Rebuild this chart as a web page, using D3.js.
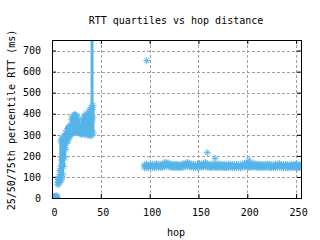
<!DOCTYPE html>
<html>
<head>
<meta charset="utf-8">
<script src="https://cdn.jsdelivr.net/npm/d3@7"></script>
<style>
  body { margin: 0; background: #fff; }
  text { font-family: "DejaVu Sans Mono", monospace; font-size: 10px; fill: #000; }
</style>
</head>
<body>
<div id="chart"></div>
<script>
// near hops (1..42), quartiles in ms
var nearHops = [1,2,3,4,5,6,7,8,9,10,11,12,13,14,15,16,17,18,19,20,21,22,23,24,25,26,27,28,29,30,31,32,33,34,35,36,37,38,39,40,41,42];
var nearQ25 = [0,0,0,1,1,62,70,75,85,90,110,150,190,230,260,270,280,290,300,305,310,310,315,315,310,315,310,310,305,305,305,310,300,305,310,300,305,300,295,300,300,310];
var nearQ50 = [2,2,3,3,4,75,85,100,150,180,210,240,260,275,285,295,300,305,315,320,330,335,340,345,340,335,330,325,320,320,325,330,320,325,335,330,340,345,350,360,420,380];
var nearQ75 = [5,6,8,8,10,90,100,130,270,280,285,290,300,305,320,330,335,340,350,375,385,390,395,395,390,380,370,350,340,345,375,355,390,350,400,380,395,410,420,430,900,440];

// far hops (95..255, every 2nd hop)
var farHops = [95,97,99,101,103,105,107,109,111,113,115,117,119,121,123,125,127,129,131,133,
  135,137,139,141,143,145,147,149,151,153,155,157,159,161,163,165,167,169,171,173,
  175,177,179,181,183,185,187,189,191,193,195,197,199,201,203,205,207,209,211,213,
  215,217,219,221,223,225,227,229,231,233,235,237,239,241,243,245,247,249,251,253,255];
var farQ25 = [143,145,144,146,145,144,147,145,144,146,149,151,148,147,145,144,146,145,143,145,
  147,150,151,148,146,145,144,146,147,145,149,151,146,145,144,146,145,144,146,145,
  144,145,143,145,146,144,143,145,144,143,146,148,149,146,145,147,148,146,144,145,
  145,144,145,146,145,144,143,145,146,147,144,143,145,144,143,145,144,145,143,144,144];
var farQ50 = [151,152,150,153,152,151,154,152,151,153,157,159,156,154,152,151,153,152,150,152,
  154,157,158,155,153,152,151,153,154,152,156,158,153,152,151,153,152,151,153,152,
  151,152,150,152,153,151,150,152,151,150,153,155,156,153,152,154,155,153,151,152,
  152,151,152,153,152,151,150,152,153,154,151,150,152,151,150,152,151,152,150,151,151];
var farQ75 = [158,160,157,161,159,158,163,160,158,161,166,170,165,162,160,158,161,159,157,160,
  162,166,168,163,161,160,158,161,163,160,165,168,161,160,158,161,160,158,161,160,
  158,160,157,159,161,158,157,160,158,157,161,164,166,161,160,162,164,161,158,160,
  160,158,160,161,160,158,157,160,161,163,159,157,160,158,157,160,158,160,157,158,158];

// single outlying quartiles
var outHops = [97, 159, 167, 202, 256];
var outRtt = [652, 215, 188, 180, 150];

var xTicks = [0, 50, 100, 150, 200, 250];
var yTicks = [0, 100, 200, 300, 400, 500, 600, 700];

var W = 320, H = 240;
var pL = 52, pR = 301, pT = 40, pB = 198;
var color = "#56b4e9";

var svg = d3.select("#chart").append("svg")
  .attr("width", W)
  .attr("height", H);

var x = d3.scaleLinear().domain([0, 255]).range([pL, pR]);
var y = d3.scaleLinear().domain([0, 750]).range([pB, pT]);

// grid
svg.append("g").selectAll("line")
  .data(xTicks.slice(1))
  .enter().append("line")
  .attr("x1", d => Math.round(x(d)) + 0.5).attr("x2", d => Math.round(x(d)) + 0.5)
  .attr("y1", pT).attr("y2", pB)
  .attr("stroke", "#a0a0a0").attr("stroke-dasharray", "3,2");
svg.append("g").selectAll("line")
  .data(yTicks.slice(1))
  .enter().append("line")
  .attr("y1", d => Math.round(y(d)) + 0.5).attr("y2", d => Math.round(y(d)) + 0.5)
  .attr("x1", pL).attr("x2", pR)
  .attr("stroke", "#a0a0a0").attr("stroke-dasharray", "3,2");

// axes (ticks inward, mirrored)
var xAxis = svg.append("g").attr("transform", "translate(0," + pB + ")")
  .call(d3.axisBottom(x).tickValues(xTicks).tickSizeInner(-4).tickSizeOuter(0).tickPadding(11));
svg.append("g").attr("transform", "translate(0," + pT + ")")
  .call(d3.axisTop(x).tickValues(xTicks).tickSizeInner(-4).tickSizeOuter(0).tickFormat(""));
svg.append("g").attr("transform", "translate(" + pL + ",0)")
  .call(d3.axisLeft(y).tickValues(yTicks).tickSizeInner(-4).tickSizeOuter(0).tickPadding(11));
svg.append("g").attr("transform", "translate(" + pR + ",0)")
  .call(d3.axisRight(y).tickValues(yTicks).tickSizeInner(-4).tickSizeOuter(0).tickFormat(""));
svg.selectAll(".domain").remove();
svg.selectAll(".tick line").attr("stroke", "#000");
svg.selectAll(".tick text").attr("font-family", "DejaVu Sans Mono").attr("font-size", 10);
xAxis.selectAll(".tick text").attr("dx", 2);

// clip
svg.append("clipPath").attr("id", "clip").append("rect")
  .attr("x", pL).attr("y", pT).attr("width", pR - pL).attr("height", pB - pT);
var plot = svg.append("g").attr("clip-path", "url(#clip)");

var star = "M-3.5,0H3.5M0,-3.5V3.5M-2.5,-2.5L2.5,2.5M-2.5,2.5L2.5,-2.5";

function drawSet(hops, q25, q50, q75) {
  plot.append("g").selectAll("line")
    .data(hops)
    .enter().append("line")
    .attr("x1", d => x(d)).attr("x2", d => x(d))
    .attr("y1", (d, i) => y(q25[i])).attr("y2", (d, i) => y(q75[i]))
    .attr("stroke", color).attr("stroke-width", 3);
  [q25, q50, q75].forEach(function (q) {
    plot.append("g").selectAll("path")
      .data(hops)
      .enter().append("path")
      .attr("d", star)
      .attr("transform", (d, i) => "translate(" + x(d) + "," + y(q[i]) + ")")
      .attr("fill", "none").attr("stroke", color).attr("stroke-width", 1);
  });
}
drawSet(nearHops, nearQ25, nearQ50, nearQ75);
drawSet(farHops, farQ25, farQ50, farQ75);

plot.append("g").selectAll("path")
  .data(outHops)
  .enter().append("path")
  .attr("d", star)
  .attr("transform", (d, i) => "translate(" + x(d) + "," + y(outRtt[i]) + ")")
  .attr("fill", "none").attr("stroke", color).attr("stroke-width", 1);

// border
svg.append("rect")
  .attr("x", pL + 0.5).attr("y", pT + 0.5)
  .attr("width", pR - pL).attr("height", pB - pT)
  .attr("fill", "none").attr("stroke", "#000");

// titles
svg.append("text").attr("x", 176).attr("y", 24).attr("text-anchor", "middle")
  .text("RTT quartiles vs hop distance");
svg.append("text").attr("x", 176).attr("y", 236).attr("text-anchor", "middle")
  .text("hop");
svg.append("text")
  .attr("transform", "translate(15,120) rotate(-90)")
  .attr("text-anchor", "middle")
  .text("25/50/75th percentile RTT (ms)");
</script>
</body>
</html>
